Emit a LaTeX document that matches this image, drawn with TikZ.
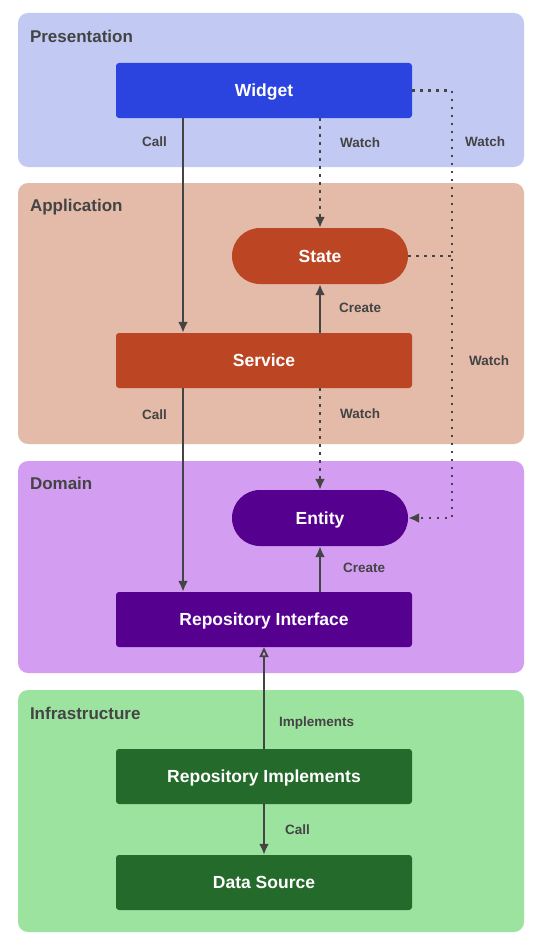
\documentclass[tikz,border=0pt]{standalone}
\usepackage{fontspec}
\setmainfont{Liberation Sans}
\usetikzlibrary{arrows.meta}
\definecolor{presbg}{HTML}{C2CAF4}
\definecolor{appbg}{HTML}{E4BAA9}
\definecolor{dombg}{HTML}{D39DF1}
\definecolor{infbg}{HTML}{9DE3A0}
\definecolor{widgetc}{HTML}{2C44DF}
\definecolor{appc}{HTML}{BC4623}
\definecolor{domc}{HTML}{56008F}
\definecolor{infc}{HTML}{246B2B}
\definecolor{linec}{HTML}{444444}
\begin{document}
\begin{tikzpicture}[x=1pt,y=-1pt,
    layer/.style={rounded corners=10pt,minimum width=506pt,inner sep=0pt},
    layertitle/.style={anchor=west,inner sep=0pt,text=linec,font=\bfseries\fontsize{17}{20}\selectfont},
    box/.style={rounded corners=3pt,minimum width=296pt,minimum height=55pt,text height=12.6pt,text depth=0pt,text=white,font=\bfseries\fontsize{17.5}{20}\selectfont},
    pill/.style={rounded corners=28pt,minimum width=176pt,minimum height=56pt,text height=12.6pt,text depth=0pt,text=white,font=\bfseries\fontsize{17.5}{20}\selectfont},
    lbl/.style={inner sep=0pt,text=linec,font=\bfseries\fontsize{13.5}{16}\selectfont},
    call/.style={draw=linec,line width=2.2pt,-{Latex[length=11pt,width=10pt]}},
    watch/.style={draw=linec,line width=2.4pt,dash pattern=on 2.4pt off 5.6pt,-{Latex[length=11pt,width=10pt]}},
    impl/.style={draw=linec,line width=2.2pt,-{Triangle[open,length=10pt,width=9pt,line width=1.8pt]}}]
    \fill[white] (0,0) rectangle (537,950);
    \useasboundingbox (0,0) rectangle (537,950);
    % layers
    \node[layer,fill=presbg,minimum height=154pt] (presentation) at (271,90) {};
    \node[layer,fill=appbg,minimum height=261pt] (application) at (271,313.5) {};
    \node[layer,fill=dombg,minimum height=212pt] (domain) at (271,567) {};
    \node[layer,fill=infbg,minimum height=242pt] (infrastructure) at (271,811) {};
    \node[layertitle] (presentationtitle) at ([xshift=12pt,yshift=-24pt]presentation.north west) {Presentation};
    \node[layertitle] (applicationtitle) at ([xshift=12pt,yshift=-24pt]application.north west) {Application};
    \node[layertitle] (domaintitle) at ([xshift=12pt,yshift=-23pt]domain.north west) {Domain};
    \node[layertitle] (infrastructuretitle) at ([xshift=12pt,yshift=-24pt]infrastructure.north west) {Infrastructure};
    % components
    \node[box,fill=widgetc] (widget) at (264,90.5) {Widget};
    \node[pill,fill=appc] (state) at (320,256) {State};
    \node[box,fill=appc] (service) at (264,360.5) {Service};
    \node[pill,fill=domc] (entity) at (320,518) {Entity};
    \node[box,fill=domc] (repointerface) at (264,619.5) {Repository Interface};
    \node[box,fill=infc] (repoimpl) at (264,776.5) {Repository Implements};
    \node[box,fill=infc] (datasource) at (264,882.5) {Data Source};
    \coordinate (watchrail) at (452,0);
    % connectors
    \draw[call] ([xshift=-81pt]widget.south) -- ([xshift=-81pt]service.north) node[lbl,pos=0.11,left=15pt]{Call};
    \draw[call] ([xshift=-81pt]service.south) -- ([xshift=-81pt]repointerface.north) node[lbl,pos=0.13,left=15pt]{Call};
    \draw[watch] (state.north |- widget.south) -- (state.north) node[lbl,pos=0.22,right=19pt]{Watch};
    \draw[call] (state.south |- service.north) -- (state.south) node[lbl,pos=0.51,right=18pt]{Create};
    \draw[watch] (entity.north |- service.south) -- (entity.north) node[lbl,pos=0.25,right=19pt]{Watch};
    \draw[call] (entity.south |- repointerface.north) -- (entity.south) node[lbl,pos=0.52,right=22pt]{Create};
    \draw[watch] (widget.east) -| (watchrail |- entity.east) node[lbl,pos=0.56,right=12pt]{Watch} node[lbl,pos=0.816,right=16pt]{Watch} -- (entity.east);
    \draw[watch,-] (state.east) -- (state.east -| watchrail);
    \draw[impl] (repoimpl.north) -- (repointerface.south) node[lbl,pos=0.25,right=14pt]{Implements};
    \draw[call] (repoimpl.south) -- (datasource.north) node[lbl,pos=0.5,right=20pt]{Call};
\end{tikzpicture}
\end{document}
